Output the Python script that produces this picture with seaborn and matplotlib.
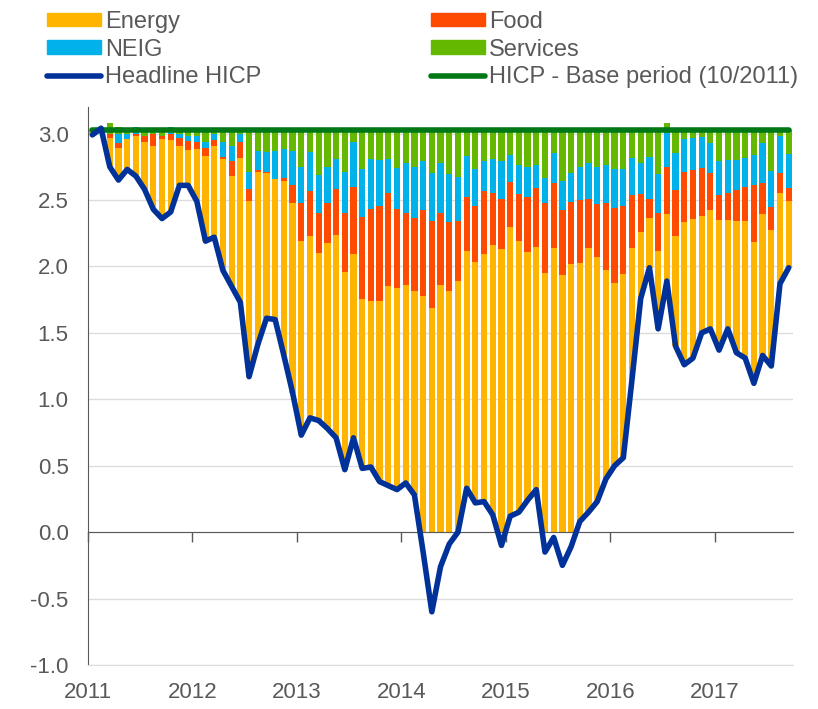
import numpy as np
import pandas as pd
import matplotlib
matplotlib.use("Agg")
import matplotlib.pyplot as plt
from matplotlib.patches import Patch
from matplotlib.lines import Line2D
import seaborn as sns

# monthly observations, first one is the base period (10/2011)
headline = [2.99, 3.04, 2.75, 2.65, 2.73, 2.68, 2.58, 2.43, 2.36, 2.41,
            2.61, 2.61, 2.49, 2.19, 2.22, 1.97, 1.85, 1.73, 1.17, 1.41,
            1.61, 1.60, 1.33, 1.05, 0.73, 0.86, 0.84, 0.78, 0.71, 0.47,
            0.71, 0.48, 0.49, 0.38, 0.35, 0.32, 0.37, 0.28, -0.15, -0.60,
            -0.26, -0.09, 0.00, 0.33, 0.22, 0.23, 0.13, -0.10, 0.12, 0.15,
            0.24, 0.32, -0.15, -0.04, -0.25, -0.11, 0.08, 0.15, 0.23, 0.40,
            0.50, 0.56, 1.15, 1.76, 1.99, 1.53, 1.89, 1.40, 1.26, 1.31,
            1.50, 1.53, 1.37, 1.53, 1.35, 1.31, 1.12, 1.33, 1.25, 1.87,
            1.99]

# upper edge of each stacked component
energy_top = [3.03, 3.03, 2.965, 2.895, 2.958, 2.978, 2.933, 2.903, 2.958, 2.953,
              2.903, 2.873, 2.885, 2.833, 2.910, 2.807, 2.677, 2.815, 2.496, 2.714,
              2.702, 2.659, 2.644, 2.476, 2.192, 2.230, 2.104, 2.175, 2.237, 1.956,
              2.094, 1.753, 1.740, 1.740, 1.853, 1.836, 1.861, 1.816, 1.778, 1.685,
              1.861, 1.816, 1.891, 2.117, 2.034, 2.094, 2.162, 2.132, 2.298, 2.192,
              2.109, 2.147, 1.954, 2.142, 1.936, 2.019, 2.024, 2.142, 2.074, 1.974,
              1.873, 1.944, 2.142, 2.257, 2.368, 2.117, 2.393, 2.230, 2.338, 2.358,
              2.381, 2.426, 2.350, 2.350, 2.343, 2.343, 2.182, 2.396, 2.275, 2.556,
              2.496]
food_top = [3.03, 3.03, 3.0, 2.928, 2.958, 2.998, 2.978, 3.0, 2.983, 3.0,
            2.966, 2.945, 2.933, 2.895, 2.953, 2.820, 2.790, 2.933, 2.584, 2.727,
            2.714, 2.659, 2.664, 2.614, 2.476, 2.564, 2.401, 2.476, 2.584, 2.401,
            2.596, 2.370, 2.431, 2.451, 2.551, 2.431, 2.401, 2.368, 2.426, 2.343,
            2.401, 2.333, 2.345, 2.526, 2.451, 2.564, 2.551, 2.511, 2.634, 2.544,
            2.519, 2.589, 2.476, 2.627, 2.426, 2.483, 2.501, 2.509, 2.471, 2.476,
            2.438, 2.451, 2.534, 2.546, 2.506, 2.401, 2.745, 2.576, 2.709, 2.727,
            2.740, 2.702, 2.534, 2.556, 2.576, 2.601, 2.614, 2.627, 2.446, 2.702,
            2.589]
neig_top = [3.03, 3.03, 3.0, 3.0, 3.0, 3.05, 2.978, 3.0, 2.983, 3.05,
            3.0, 2.978, 2.978, 2.940, 3.0, 2.940, 2.908, 3.0, 2.714, 2.865,
            2.858, 2.870, 2.883, 2.865, 2.747, 2.858, 2.689, 2.752, 2.807, 2.714,
            2.940, 2.732, 2.807, 2.802, 2.807, 2.740, 2.782, 2.747, 2.790, 2.702,
            2.777, 2.697, 2.672, 2.833, 2.732, 2.795, 2.807, 2.795, 2.840, 2.760,
            2.747, 2.765, 2.664, 2.853, 2.644, 2.702, 2.752, 2.782, 2.752, 2.765,
            2.732, 2.732, 2.815, 2.777, 2.822, 2.694, 3.003, 2.853, 2.958, 2.966,
            2.973, 2.928, 2.795, 2.802, 2.802, 2.815, 2.835, 2.928, 2.719, 2.983,
            2.845]
services_top = [3.03, 3.03, 3.08, 3.05, 3.03, 3.05, 3.03, 3.03, 3.03, 3.05,
                3.03, 3.03, 3.03, 3.03, 3.03, 3.03, 3.03, 3.03, 3.03, 3.03,
                3.03, 3.03, 3.03, 3.03, 3.03, 3.03, 3.03, 3.03, 3.03, 3.03,
                3.03, 3.03, 3.03, 3.03, 3.03, 3.03, 3.03, 3.03, 3.03, 3.03,
                3.03, 3.03, 3.03, 3.03, 3.03, 3.03, 3.03, 3.03, 3.03, 3.03,
                3.03, 3.03, 3.03, 3.03, 3.03, 3.03, 3.03, 3.03, 3.03, 3.03,
                3.03, 3.03, 3.03, 3.03, 3.03, 3.03, 3.08, 3.03, 3.03, 3.03,
                3.03, 3.03, 3.03, 3.03, 3.03, 3.03, 3.03, 3.03, 3.03, 3.03,
                3.03]
base_level = 3.03
year_labels = ['2011', '2012', '2013', '2014', '2015', '2016', '2017']

c_energy = '#ffb400'
c_food = '#ff4b00'
c_neig = '#00b1ea'
c_serv = '#65b800'
c_head = '#003299'
c_base = '#007816'
grey = '#595959'

sns.set_style('white')
plt.rcParams['font.family'] = ['Liberation Sans', 'DejaVu Sans']

df = pd.DataFrame({'month': np.arange(len(headline)), 'headline': headline,
                   'energy_top': energy_top, 'food_top': food_top,
                   'neig_top': neig_top, 'services_top': services_top})
df['base'] = base_level
bottom = np.minimum(df['headline'].clip(lower=0), df['energy_top'])
df['energy'] = df['energy_top'] - bottom
df['food'] = df['food_top'] - df['energy_top']
df['neig'] = df['neig_top'] - df['food_top']
df['services'] = df['services_top'] - df['neig_top']

fig = plt.figure(figsize=(8.18, 7.09), dpi=100)
ax = fig.add_axes([0.1076, 0.0621, 0.8619, 0.787])

stack = [('energy', bottom, c_energy), ('food', df['energy_top'], c_food),
         ('neig', df['food_top'], c_neig), ('services', df['neig_top'], c_serv)]
for col, bot, colr in stack:
    sns.barplot(data=df, x='month', y=col, bottom=np.asarray(bot), color=colr,
                saturation=1, width=0.72, linewidth=0, errorbar=None,
                ax=ax, zorder=1)

sns.lineplot(data=df, x='month', y='base', color=c_base, linewidth=4,
             solid_capstyle='round', ax=ax, zorder=3)
sns.lineplot(data=df, x='month', y='headline', color=c_head, linewidth=4,
             solid_capstyle='round', solid_joinstyle='round', ax=ax, zorder=4)

ax.set_xlim(-0.5, len(headline) - 0.5)
ax.set_ylim(-1.0, 3.2)
ticks = np.arange(len(year_labels)) * 12 - 0.5
ax.set_xticks(ticks)
ax.set_xticklabels(year_labels)
ax.set_yticks(np.arange(-1.0, 3.01, 0.5))
ax.set_yticklabels([f'{v:.1f}' for v in np.arange(-1.0, 3.01, 0.5)])
ax.set_xlabel('')
ax.set_ylabel('')
ax.yaxis.grid(True, color='#dcdcdc', linewidth=1)
ax.set_axisbelow(True)
ax.tick_params(axis='x', length=0, pad=12, labelsize=16, labelcolor=grey)
ax.tick_params(axis='y', direction='in', length=6, color=grey, pad=14,
               labelsize=16, labelcolor=grey)
for s in ['top', 'right']:
    ax.spines[s].set_visible(False)
ax.spines['bottom'].set_color('#dcdcdc')
ax.spines['left'].set_color(grey)

# zero line with the year ticks
sec = ax.secondary_xaxis(0, transform=ax.transData)
sec.set_xticks(ticks)
sec.set_xticklabels([])
sec.tick_params(direction='out', length=7, color=grey, width=1)
sec.spines['bottom'].set_color(grey)
sec.set_zorder(2)

handles = [Patch(color=c_energy), Patch(color=c_neig),
           Line2D([], [], color=c_head, linewidth=4, solid_capstyle='round'),
           Patch(color=c_food), Patch(color=c_serv),
           Line2D([], [], color=c_base, linewidth=4, solid_capstyle='round')]
labels = ['Energy', 'NEIG', 'Headline HICP', 'Food', 'Services',
          'HICP - Base period (10/2011)']
fig.legend(handles, labels, ncol=2, loc='upper left',
           bbox_to_anchor=(0.0575, 0.985), frameon=False, fontsize=17,
           handlelength=2.3, handleheight=0.5, handletextpad=0.15,
           columnspacing=7.2, labelspacing=0.25, borderpad=0, borderaxespad=0,
           labelcolor=grey)

plt.savefig('out.png', dpi=100)
